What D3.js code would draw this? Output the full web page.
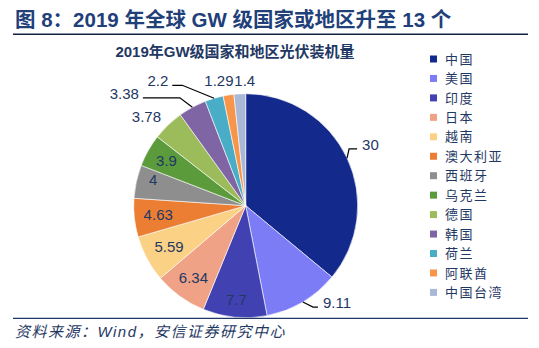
<!DOCTYPE html>
<html><head><meta charset="utf-8">
<script src="https://cdn.jsdelivr.net/npm/d3@7"></script>
<style>
body{margin:0;background:#fff;}
svg{display:block;}
</style></head>
<body>
<svg id="c" width="539" height="348"></svg>
<script>
const categories = ["中国","美国","印度","日本","越南","澳大利亚","西班牙","乌克兰","德国","韩国","荷兰","阿联酋","中国台湾"];
const values = [30, 9.11, 7.7, 6.34, 5.59, 4.63, 4, 3.9, 3.78, 3.38, 2.2, 1.29, 1.4];
const valueLabels = ["30","9.11","7.7","6.34","5.59","4.63","4","3.9","3.78","3.38","2.2","1.29","1.4"];
const colors = ["#14298C","#7C7CF6","#4141B2","#EFA285","#FBD185","#EC7E34","#8E8E8E","#5C9B3C","#9CBB5A","#7F65A3","#4AADC7","#F7964A","#A8B8D6"];

// label layout: mode, angle nudge (deg), radius, leader horizontal length
const labelMode = ["leader","leader","in","in","in","in","in","in","out","leader","leader","out","out"];
const labelAngle = [-1.8,-4.8,0,0,0,0,3,0,-4.4,-15.2,-15,-3.3,2.6];
const labelRadius = [125,124.5,95,89,87,88,96,91,133,149,141,127.5,124.7];
const leaderLen = [8,5,0,0,0,0,0,0,0,37,10,0,0];

const svg = d3.select("#c");
const navy = "#1F3864";

// Header
svg.append("text").attr("x",15).attr("y",27)
  .attr("font-family","'Liberation Sans','Noto Sans CJK SC',sans-serif")
  .attr("font-weight","bold").attr("font-size",20.5).attr("fill","#1F4079")
  .text("图 8：2019 年全球 GW 级国家或地区升至 13 个");
svg.append("line").attr("x1",13).attr("x2",528).attr("y1",34.3).attr("y2",34.3)
  .attr("stroke","#13233F").attr("stroke-width",1.6);

svg.append("text").attr("x",235).attr("y",57).attr("text-anchor","middle")
  .attr("font-family","'Liberation Sans','Noto Sans CJK SC',sans-serif")
  .attr("font-weight","bold").attr("font-size",15).attr("fill",navy)
  .text("2019年GW级国家和地区光伏装机量");

// Pie
const cx = 245.7, cy = 205.7, R = 112;
const g = svg.append("g").attr("transform",`translate(${cx},${cy})`);
const pie = d3.pie().sort(null).value(d=>d.v);
const data = categories.map((c,i)=>({c, v: values[i], i}));
const arcs = pie(data);
const arc = d3.arc().innerRadius(0).outerRadius(R);
g.selectAll("path.s").data(arcs).join("path").attr("class","s")
  .attr("d",arc).attr("fill",d=>colors[d.data.i])
  .attr("stroke","#fff").attr("stroke-width",0.6);

const polar = (a, r) => [r*Math.sin(a), -r*Math.cos(a)];
const rad = deg => deg*Math.PI/180;

arcs.forEach(d=>{
  const i = d.data.i;
  const mid = (d.startAngle + d.endAngle)/2;
  const mode = labelMode[i];
  const fs = 15;
  if (mode === "in" || mode === "out") {
    const [x,y] = polar(mid + rad(labelAngle[i]), labelRadius[i]);
    g.append("text").attr("x",x).attr("y",y).attr("dy","0.35em")
      .attr("text-anchor","middle").attr("font-family","'Liberation Sans',Arial,sans-serif")
      .attr("font-size",fs).attr("fill",navy).text(valueLabels[i]);
  } else {
    const P = polar(mid, R);
    const L = polar(mid + rad(labelAngle[i]), labelRadius[i]);
    const right = L[0] > 0;
    const E = [L[0] + (right ? -leaderLen[i] : leaderLen[i]), L[1]];
    g.append("path").attr("d", d3.line()([P, E, L]))
      .attr("fill","none").attr("stroke","#000").attr("stroke-width",1.2);
    g.append("text").attr("x", L[0] + (right ? 5 : -4)).attr("y", L[1] + 1)
      .attr("text-anchor", right ? "start" : "end")
      .attr("font-family","'Liberation Sans',Arial,sans-serif")
      .attr("font-size",fs).attr("fill",navy).text(valueLabels[i]);
  }
});

// Legend
const leg = svg.append("g");
categories.forEach((c,i)=>{
  const y = 59 + i*19.45;
  leg.append("rect").attr("x",430).attr("y",y-3.5).attr("width",7).attr("height",7).attr("fill",colors[i]);
  leg.append("text").attr("x",445).attr("y",y).attr("dy","0.36em")
    .attr("font-family","'Noto Sans CJK SC',sans-serif").attr("font-size",13)
    .attr("letter-spacing",1.5).attr("fill",navy).text(c);
});

// Footer
svg.append("line").attr("x1",13).attr("x2",528).attr("y1",318.3).attr("y2",318.3)
  .attr("stroke","#1F3864").attr("stroke-width",1.2);
svg.append("text").attr("x",15).attr("y",337)
  .attr("font-family","'Liberation Sans','Noto Sans CJK SC',sans-serif")
  .attr("font-style","italic").attr("font-size",15).attr("letter-spacing",1.5).attr("fill",navy)
  .text("资料来源：Wind，安信证券研究中心");
</script>
</body></html>
